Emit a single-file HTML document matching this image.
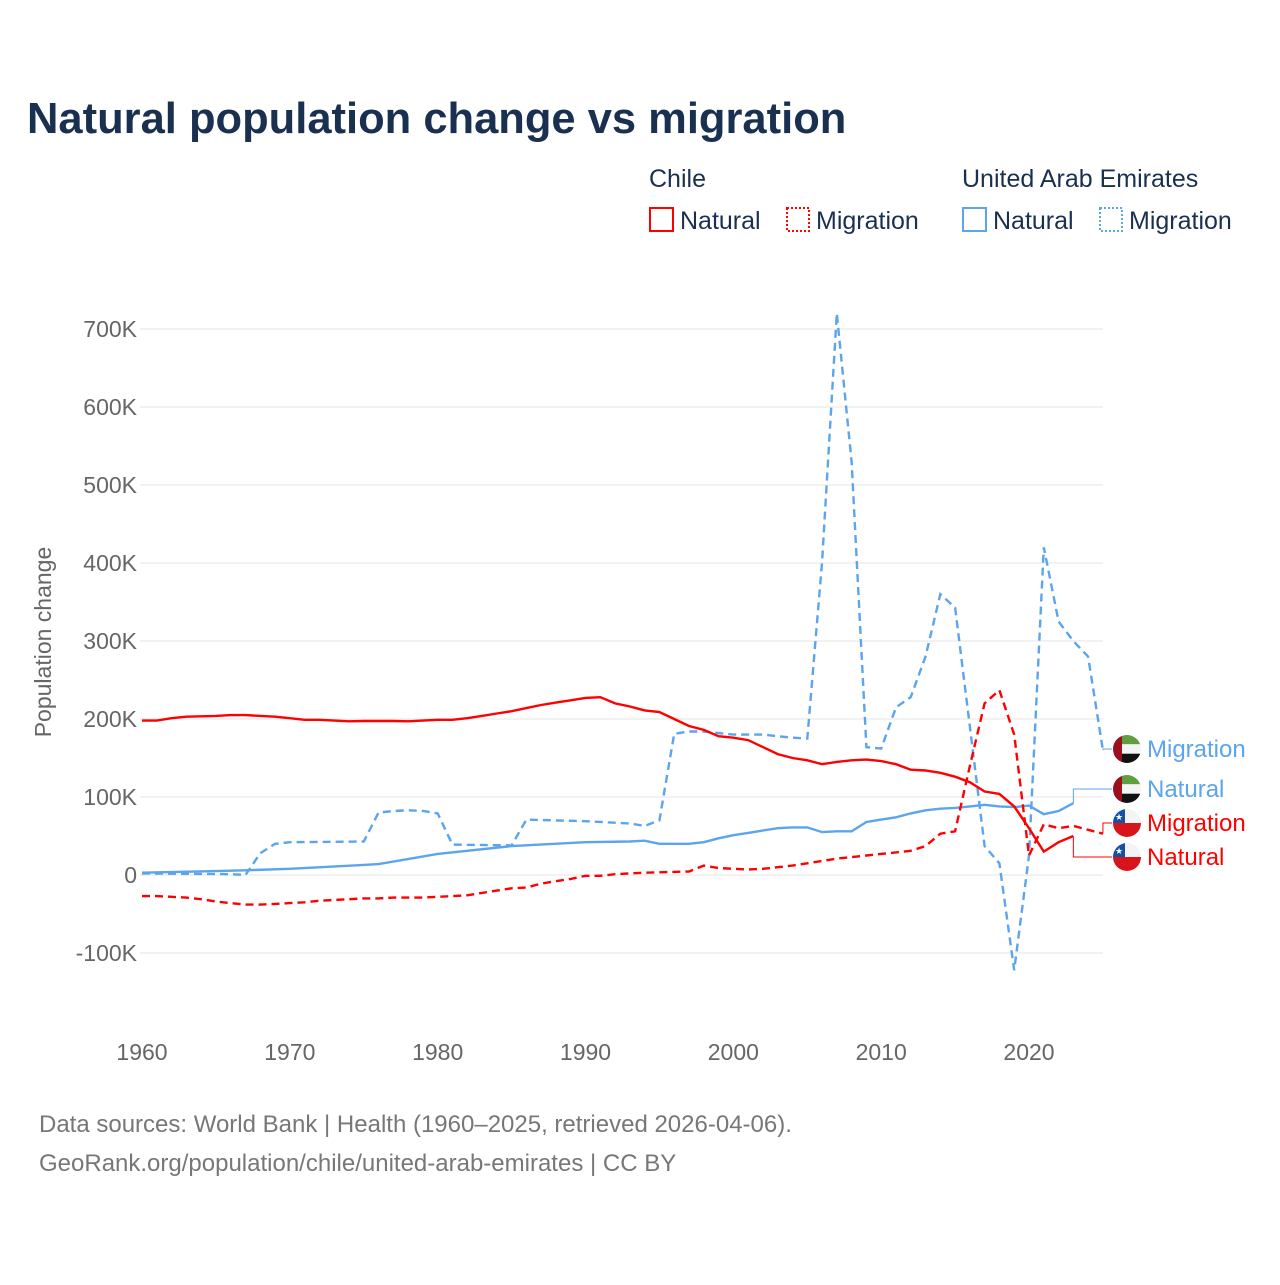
<!DOCTYPE html>
<html><head><meta charset="utf-8">
<style>
body{margin:0;background:#fff;font-family:"Liberation Sans",sans-serif;}
svg text{font-family:"Liberation Sans",sans-serif;}
</style></head>
<body>
<svg id="chart" width="1280" height="1280" viewBox="0 0 1280 1280">
  <text x="27" y="133" font-size="43.5" font-weight="bold" fill="#1a3050">Natural population change vs migration</text>
  <g fill="#1a3050" font-size="25">
    <text x="649" y="187">Chile</text>
    <text x="962" y="187">United Arab Emirates</text>
    <g><rect x="650" y="208" width="23" height="23" fill="none" stroke="#ff0000" stroke-width="2"/><text x="680" y="229">Natural</text></g>
    <g><rect x="787" y="208" width="22" height="23" fill="none" stroke="#ff0000" stroke-width="2" stroke-dasharray="2,2"/><text x="816" y="229">Migration</text></g>
    <g><rect x="963" y="208" width="23" height="23" fill="none" stroke="#5ba4ee" stroke-width="2"/><text x="993" y="229">Natural</text></g>
    <g><rect x="1100" y="208" width="22" height="23" fill="none" stroke="#5ba4ee" stroke-width="2" stroke-dasharray="2,2"/><text x="1129" y="229">Migration</text></g>
  </g>
  <text transform="translate(51,642) rotate(-90)" text-anchor="middle" font-size="23" fill="#666">Population change</text>
  <g id="grid"></g>
  <g id="series"></g>
  <g id="labels"></g>
  <text x="39" y="1132" font-size="24" fill="#777">Data sources: World Bank | Health (1960–2025, retrieved 2026-04-06).</text>
  <text x="39" y="1171" font-size="24" fill="#777">GeoRank.org/population/chile/united-arab-emirates | CC BY</text>
</svg>
<script>
const yTicks=[-100,0,100,200,300,400,500,600,700];
const yTickLabels=["-100K","0","100K","200K","300K","400K","500K","600K","700K"];
const xTicks=[1960,1970,1980,1990,2000,2010,2020];
const chileNaturalYears=[];for(let y=1960;y<=2023;y++)chileNaturalYears.push(y);
const chileNatural=[198,198,201,203,203.5,204,205,205,204,203,201,199,199,198,197,197.5,197.5,197.5,197,198,199,199,201,204,207,210,214,218,221,224,227,228,220,216,211,209,200,191,186,178,176,173,164,155,150,147,142,145,147,148,146,142,135,134,131,126,119,107,104,88,60,30,42,50];
const chileMigrationYears=[];for(let y=1960;y<=2025;y++)chileMigrationYears.push(y);
const chileMigration=[-27,-27,-28,-29,-31,-34,-36,-38,-38,-37,-36,-35,-33,-32,-31,-30,-30,-29,-29,-29,-28,-27,-26,-23,-20,-17,-16,-11,-8,-5,-1,-1,1,2,3,3.5,4,4.5,12,9,8,7,8,10,12,15,18,21,23,25,27,29,31,37,53,56,140,220,237,180,25,65,60,63,58,53];
const uaeNaturalYears=[1960,1965,1967,1970,1975,1976,1980,1985,1990,1993,1994,1995,1997,1998,1999,2000,2001,2002,2003,2004,2005,2006,2007,2008,2009,2010,2011,2012,2013,2014,2015,2016,2017,2018,2019,2020,2021,2022,2023];
const uaeNatural=[3,5,6,8,13,14,27,37,42,43,44,40,40,42,47,51,54,57,60,61,61,55,56,56,68,71,74,79,83,85,86,88,90,88,87,89,78,82,92];
const uaeMigrationYears=[1960,1966,1967,1968,1969,1970,1975,1976,1977,1978,1979,1980,1981,1985,1986,1990,1993,1994,1995,1996,1997,1998,2000,2002,2003,2004,2005,2006,2007,2008,2009,2010,2011,2012,2013,2014,2015,2016,2017,2018,2019,2020,2021,2022,2023,2024,2025];
const uaeMigration=[2,1,0,28,40,42,43,80,82,83,82,79,39,38,71,69,66,63,70,181,184,184,180,180,178,176,175,400,720,530,164,162,215,228,280,360,343,190,37,15,-122,25,420,325,300,280,160];

const NS='http://www.w3.org/2000/svg';
const X=y=>142+(y-1960)*887/60;
const Y=v=>875-v*0.78;
const grid=document.getElementById('grid');
yTicks.forEach((t,i)=>{
  const l=document.createElementNS(NS,'line');
  l.setAttribute('x1',140);l.setAttribute('x2',1103);l.setAttribute('y1',Y(t));l.setAttribute('y2',Y(t));
  l.setAttribute('stroke','#e6e6e6');l.setAttribute('stroke-width',1);
  
  
  grid.appendChild(l);
  const tx=document.createElementNS(NS,'text');
  tx.setAttribute('x',137);tx.setAttribute('y',Y(t)+8);tx.setAttribute('text-anchor','end');
  tx.setAttribute('font-size',23);tx.setAttribute('fill','#666');tx.textContent=yTickLabels[i];
  
  
  grid.appendChild(tx);
});
xTicks.forEach(t=>{
  const tx=document.createElementNS(NS,'text');
  tx.setAttribute('x',X(t));tx.setAttribute('y',1060);tx.setAttribute('text-anchor','middle');
  tx.setAttribute('font-size',23);tx.setAttribute('fill','#666');tx.textContent=t;
  
  
  grid.appendChild(tx);
});
const series=document.getElementById('series');
function line(xs,vs,color,dash,name){
  const p=document.createElementNS(NS,'path');
  p.setAttribute('d',xs.map((x,i)=>(i?'L':'M')+X(x).toFixed(1)+','+Y(vs[i]).toFixed(1)).join(''));
  p.setAttribute('fill','none');p.setAttribute('stroke',color);p.setAttribute('stroke-width',2.4);
  if(dash)p.setAttribute('stroke-dasharray','8,5');
  
  
  series.appendChild(p);
}
line(uaeMigrationYears,uaeMigration,'#5ba4ee',true,'uae-migration-line');
line(uaeNaturalYears,uaeNatural,'#5ba4ee',false,'uae-natural-line');
line(chileMigrationYears,chileMigration,'#ff0000',true,'chile-migration-line');
line(chileNaturalYears,chileNatural,'#ff0000',false,'chile-natural-line');

const labels=document.getElementById('labels');
function endLabel(lastYear,lastVal,ly,text,color,flag,name){
  const x0=X(lastYear),y0=Y(lastVal);
  const c=document.createElementNS(NS,'path');
  const d = x0<1073 ? `M${x0},${y0}H1073V${ly}H1112` : `M${x0},${y0}V${ly}H1112`;
  c.setAttribute('d',d);
  c.setAttribute('fill','none');c.setAttribute('stroke',color);c.setAttribute('stroke-width',1);
  
  
  labels.appendChild(c);
  const g=document.createElementNS(NS,'g');
  
  
  const cx=1127;
  if(flag==='uae'){
    g.innerHTML=`<clipPath id="cp${name}"><circle cx="${cx}" cy="${ly}" r="14"/></clipPath><g clip-path="url(#cp${name})"><rect x="${cx-14}" y="${ly-14}" width="28" height="9.3" fill="#5e9e3e"/><rect x="${cx-14}" y="${ly-4.7}" width="28" height="9.4" fill="#f4f4f4"/><rect x="${cx-14}" y="${ly+4.7}" width="28" height="9.3" fill="#111"/><rect x="${cx-14}" y="${ly-14}" width="9" height="28" fill="#9b0f1f"/></g>`;
  }else{
    g.innerHTML=`<clipPath id="cp${name}"><circle cx="${cx}" cy="${ly}" r="14"/></clipPath><g clip-path="url(#cp${name})"><rect x="${cx-14}" y="${ly-14}" width="28" height="14" fill="#f4f4f4"/><rect x="${cx-14}" y="${ly}" width="28" height="14" fill="#d7141a"/><rect x="${cx-14}" y="${ly-14}" width="12" height="14" fill="#1450a8"/><text x="${cx-8}" y="${ly-3}" font-size="9" fill="#fff" text-anchor="middle">★</text></g>`;
  }
  labels.appendChild(g);
  const t=document.createElementNS(NS,'text');
  t.setAttribute('x',1147);t.setAttribute('y',ly+8);t.setAttribute('font-size',24);t.setAttribute('fill',color);
  t.textContent=text;
  
  
  labels.appendChild(t);
}
endLabel(2025,uaeMigration[uaeMigration.length-1],749,'Migration','#5ba4ee','uae','uae-migration-end');
endLabel(2023,uaeNatural[uaeNatural.length-1],789,'Natural','#5ba4ee','uae','uae-natural-end');
endLabel(2025,chileMigration[chileMigration.length-1],823,'Migration','#ff0000','chile','chile-migration-end');
endLabel(2023,chileNatural[chileNatural.length-1],857,'Natural','#ff0000','chile','chile-natural-end');
</script>
</body></html>
